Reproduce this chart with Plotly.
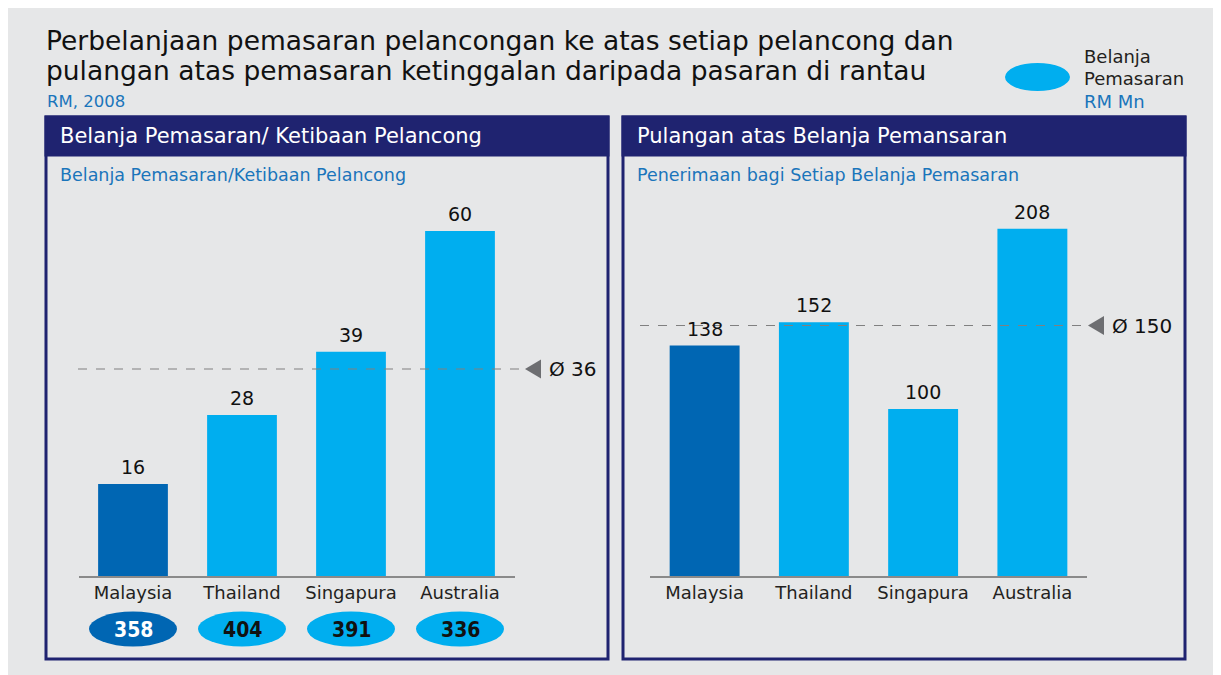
import plotly.graph_objects as go

W, H = 1221, 675

countries = ['Malaysia', 'Thailand', 'Singapura', 'Australia']
spend_per_arrival = [16, 28, 39, 60]
avg_spend_per_arrival = 36
marketing_spend = [358, 404, 391, 336]
return_per_spend = [138, 152, 100, 208]
avg_return = 150

title_lines = ['Perbelanjaan pemasaran pelancongan ke atas setiap pelancong dan',
               'pulangan atas pemasaran ketinggalan daripada pasaran di rantau']

BG = '#e6e7e8'
NAVY = '#1f2370'
DARK = '#0066b3'
LIGHT = '#00aeef'
BLUE_TXT = '#1a75bb'
FONT = 'DejaVu Sans'
NARROW = 'DejaVu Sans Condensed, Liberation Sans, sans-serif'

# the page puts the figure 8px in from the top-left corner
OFF = 8


def px(x):
    return (x - OFF) / W


def py(y):
    return 1 - (y - OFF) / H


bar_colors = [DARK] + [LIGHT] * (len(countries) - 1)

fig = go.Figure()
fig.add_trace(go.Bar(x=countries, y=spend_per_arrival, marker=dict(color=bar_colors, line=dict(width=0)),
                     width=0.64, xaxis='x', yaxis='y', hoverinfo='x+y'))
fig.add_trace(go.Bar(x=countries, y=return_per_spend, marker=dict(color=bar_colors, line=dict(width=0)),
                     width=0.64, xaxis='x2', yaxis='y2', hoverinfo='x+y'))

axis_common = dict(showgrid=False, zeroline=False, showline=True, linecolor='#8a8a8a', linewidth=1.5,
                   ticks='', tickfont=dict(size=18, color='#231f20', family=FONT), fixedrange=True)
fig.update_layout(
    width=W, height=H, margin=dict(l=0, r=0, t=0, b=0),
    paper_bgcolor=BG, plot_bgcolor='rgba(0,0,0,0)', showlegend=False,
    xaxis=dict(domain=[px(78.5), px(514.5)], anchor='y', **axis_common),
    yaxis=dict(domain=[py(576), py(200)], range=[0, 376 / 5.75], visible=False, anchor='x'),
    xaxis2=dict(domain=[px(650), px(1087)], anchor='y2', **axis_common),
    yaxis2=dict(domain=[py(576), py(200)], range=[0, 376 / 1.67], visible=False, anchor='x2'),
)

shapes = []
annotations = []

# value labels above bars
for xr, yr, vals in [('x', 'y', spend_per_arrival), ('x2', 'y2', return_per_spend)]:
    for c, v in zip(countries, vals):
        annotations.append(dict(text=str(v), xref=xr, yref=yr, x=c, y=v, xanchor='center', yanchor='bottom',
                                yshift=4, showarrow=False, font=dict(size=19, color='#111111', family=FONT)))

# panels
panels = [(46, 608, 'Belanja Pemasaran/ Ketibaan Pelancong', 'Belanja Pemasaran/Ketibaan Pelancong'),
          (623, 1185, 'Pulangan atas Belanja Pemansaran', 'Penerimaan bagi Setiap Belanja Pemasaran')]
for x0, x1, head, sub in panels:
    shapes.append(dict(type='rect', xref='paper', yref='paper', x0=px(x0), x1=px(x1), y0=py(659), y1=py(117),
                       fillcolor=BG, line=dict(color=NAVY, width=3), layer='below'))
    shapes.append(dict(type='rect', xref='paper', yref='paper', x0=px(x0), x1=px(x1), y0=py(155), y1=py(117),
                       fillcolor=NAVY, line=dict(color=NAVY, width=3), layer='below'))
    annotations.append(dict(text=head, xref='paper', yref='paper', x=px(x0 + 12), y=py(136), xanchor='left',
                            yanchor='middle', showarrow=False, font=dict(size=21, color='white', family=FONT)))
    annotations.append(dict(text=sub, xref='paper', yref='paper', x=px(x0 + 12), y=py(175), xanchor='left',
                            yanchor='middle', showarrow=False, font=dict(size=17.5, color=BLUE_TXT, family=FONT)))

# average lines
for yref, avg, x0, x1, tri_x in [('y', avg_spend_per_arrival, 78, 521, 533),
                                  ('y2', avg_return, 640, 1085, 1096)]:
    shapes.append(dict(type='line', xref='paper', yref=yref, x0=px(x0), x1=px(x1), y0=avg, y1=avg,
                       line=dict(color='#808080', width=1.2, dash='dash')))
    shapes.append(dict(type='path', xref='paper', yref=yref, xsizemode='pixel', ysizemode='pixel',
                       xanchor=px(tri_x), yanchor=avg, path='M -8,0 L 8,9.5 L 8,-9.5 Z',
                       fillcolor='#6d6e71', line=dict(width=0)))
    annotations.append(dict(text=f'Ø {avg}', xref='paper', yref=yref, x=px(tri_x + 14), y=avg,
                            xanchor='left', yanchor='middle', showarrow=False,
                            font=dict(size=20, color='#111111', family=FONT)))

# marketing spend ellipses under the left chart
for i, (c, v) in enumerate(zip(countries, marketing_spend)):
    shapes.append(dict(type='circle', xref='x', yref='paper', xsizemode='pixel', ysizemode='pixel',
                       xanchor=i, yanchor=py(629), x0=-44, x1=44, y0=-17.5, y1=17.5,
                       fillcolor=bar_colors[i], line=dict(width=0)))
    annotations.append(dict(text=f'<b>{v}</b>', xref='x', yref='paper', x=c, y=py(630), showarrow=False,
                            xanchor='center', yanchor='middle',
                            font=dict(size=21, color='white' if i == 0 else '#111111', family=NARROW)))

# legend
shapes.append(dict(type='circle', xref='paper', yref='paper', x0=px(1005), x1=px(1070), y0=py(91), y1=py(63),
                   fillcolor=LIGHT, line=dict(width=0)))
for t, y, col in [('Belanja', 57, '#231f20'), ('Pemasaran', 79, '#231f20'), ('RM Mn', 101, BLUE_TXT)]:
    annotations.append(dict(text=t, xref='paper', yref='paper', x=px(1082), y=py(y), xanchor='left',
                            yanchor='middle', showarrow=False, font=dict(size=18, color=col, family=FONT)))

# title
for line, y in zip(title_lines, [40, 70]):
    annotations.append(dict(text=line, xref='paper', yref='paper', x=px(44), y=py(y), xanchor='left',
                            yanchor='middle', showarrow=False, font=dict(size=26.5, color='#111111', family=FONT)))
annotations.append(dict(text='RM, 2008', xref='paper', yref='paper', x=px(45), y=py(101), xanchor='left',
                        yanchor='middle', showarrow=False, font=dict(size=16.5, color=BLUE_TXT, family=FONT)))

fig.update_layout(shapes=shapes, annotations=annotations)
fig.write_html('out.html')
